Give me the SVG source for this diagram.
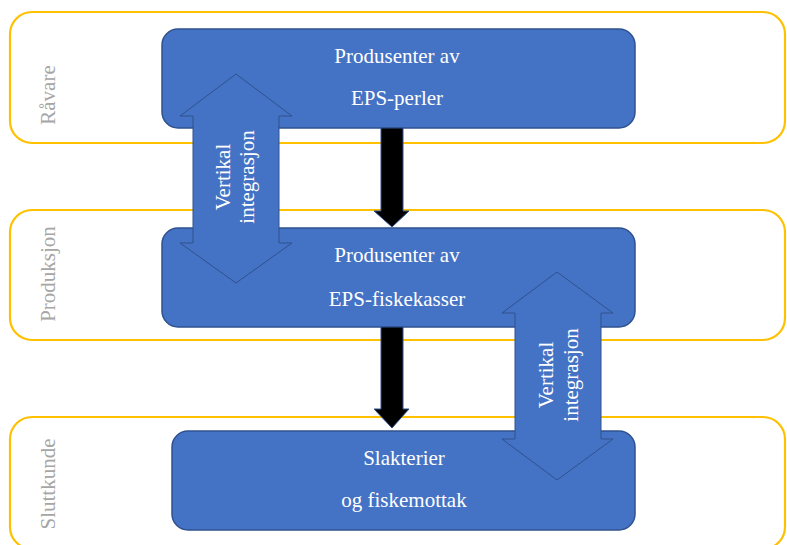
<svg xmlns="http://www.w3.org/2000/svg" width="787" height="545" viewBox="0 0 787 545">
<style>
.band{fill:#FFFFFF;stroke:#FFC000;stroke-width:2.2}
.bandtxt{font-family:"Liberation Serif","Times New Roman",serif;font-size:21px;fill:#A6A6A6;text-anchor:middle}
.box{fill:#4472C4;stroke:#2F528F;stroke-width:1.5}
.boxtxt{font-family:"Liberation Serif","Times New Roman",serif;font-size:21px;fill:#FFFFFF;text-anchor:middle}
.dbl{fill:#4472C4;stroke:#2F528F;stroke-width:1}
.flow{fill:#000000;stroke:#2F528F;stroke-width:1}
</style>
<rect width="787" height="545" fill="#FFFFFF"/>
<g id="band-ravare">
<rect class="band" x="10" y="12" width="775" height="131" rx="22"/>
<text class="bandtxt" transform="translate(55,95) rotate(-90)">Råvare</text>
</g>
<g id="band-produksjon">
<rect class="band" x="10" y="210" width="775" height="130" rx="22"/>
<text class="bandtxt" transform="translate(55,274) rotate(-90)">Produksjon</text>
</g>
<g id="band-sluttkunde">
<rect class="band" x="10" y="417" width="775" height="132" rx="22"/>
<text class="bandtxt" transform="translate(55,484) rotate(-90)">Sluttkunde</text>
</g>
<g id="node-eps-perler">
<rect class="box" x="162" y="29" width="473" height="99" rx="16"/>
<text class="boxtxt" x="397" y="63">Produsenter av</text>
<text class="boxtxt" x="397" y="105">EPS-perler</text>
</g>
<g id="node-eps-fiskekasser">
<rect class="box" x="162" y="228" width="473" height="99" rx="16"/>
<text class="boxtxt" x="397" y="262">Produsenter av</text>
<text class="boxtxt" x="397" y="306">EPS-fiskekasser</text>
</g>
<g id="node-slakterier">
<rect class="box" x="172" y="431" width="463" height="99" rx="16"/>
<text class="boxtxt" x="404" y="465">Slakterier</text>
<text class="boxtxt" x="404" y="507">og fiskemottak</text>
</g>
<g id="connectors">
<polygon class="flow" points="381,128 403,128 403,211 409,211 392,227 374,211 381,211"/>
<polygon class="flow" points="381,327 403,327 403,409 409,409 392,428 374,409 381,409"/>
<g id="integrasjon-1">
<polygon class="dbl" points="236,74 292,116 279,116 279,243 292,243 236,283 180,243 193,243 193,116 180,116"/>
<text class="boxtxt" transform="translate(230,177) rotate(-90)">Vertikal</text>
<text class="boxtxt" transform="translate(254,177) rotate(-90)">integrasjon</text>
</g>
<g id="integrasjon-2">
<polygon class="dbl" points="557,272 613,313 601,313 601,439 613,439 557,480 502,439 515,439 515,313 502,313"/>
<text class="boxtxt" transform="translate(553,375) rotate(-90)">Vertikal</text>
<text class="boxtxt" transform="translate(578,375) rotate(-90)">integrasjon</text>
</g>
</g>
</svg>
